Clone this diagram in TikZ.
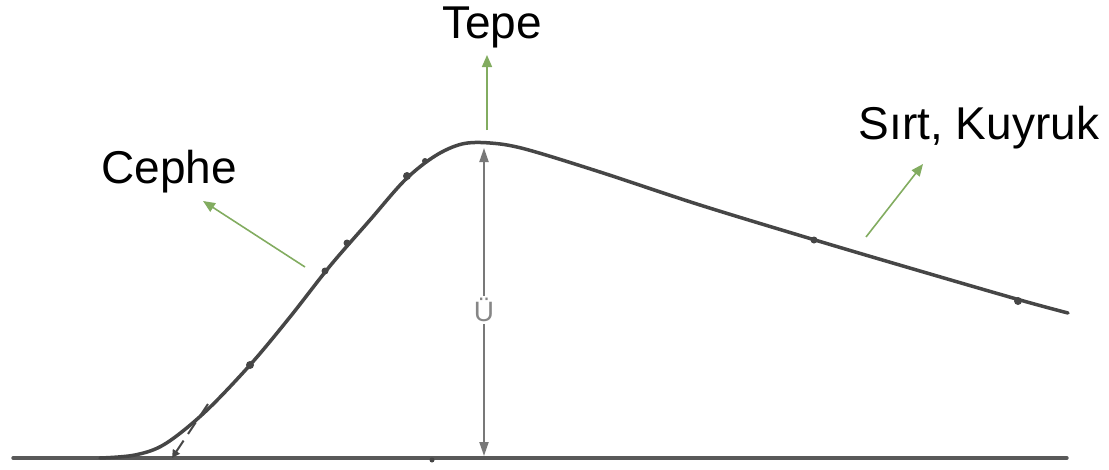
\documentclass[tikz,border=0pt]{standalone}
\usepackage{fontspec}
\setmainfont{Liberation Sans}
\usetikzlibrary{arrows.meta}
\definecolor{lbl}{RGB}{130,172,96}
\definecolor{ink}{RGB}{70,70,70}
\definecolor{ink2}{RGB}{120,120,120}
\begin{document}
\begin{tikzpicture}[x=1pt,y=-1pt,
  curveline/.style={draw=ink,line width=3.5pt,line cap=round},
  dimline/.style={draw=ink2,line width=2pt,-{Triangle[length=14pt,width=9pt]}},
  greenarrow/.style={draw=lbl,line width=1.6pt,-{Triangle[length=12pt,width=10pt]}},
  lbltext/.style={font=\fontsize{46}{52}\selectfont,inner sep=0pt},
  blip/.style={fill=ink,circle,inner sep=0pt,minimum size=8pt}]
\useasboundingbox (0,0) rectangle (1109,469);
% baseline
\coordinate (b0) at (13,458);
\coordinate (b1) at (1067,458);
\draw[curveline,line width=3.4pt,draw=ink!90] (b0) -- (b1);
% hydrograph curve
\draw[curveline] plot[smooth,tension=0.55] coordinates {(100,458) (135,455) (165,444) (205,412) (250,365) (290,317) (330,266) (370,220) (405,180) (435,156) (462,144) (490,143) (525,149) (600,172) (700,205) (815,240) (920,271) (1020,300) (1068,313)};
% blips
\node[blip] (p1) at (250,365) {};
\node[blip,minimum size=7pt] (p2) at (325,271) {};
\node[blip,minimum size=7pt] (p3) at (347,243) {};
\node[blip] (p4) at (407,176) {};
\node[blip,minimum size=6pt] (p5) at (425,161) {};
\node[blip,minimum size=7pt] (p6) at (814,240) {};
\node[blip] (p7) at (1018,301) {};
\node[blip,minimum size=5pt] (p8) at (432,460) {};
% tangent dashed
\coordinate (t0) at (208,404);
\coordinate (t1) at (172,458);
\draw[draw=ink,line width=2pt,dash pattern=on 14pt off 8pt,-{Triangle[length=8pt,width=8pt]}] (t0) -- (t1);
% vertical dimension U
\node[text=ink2!90,font=\fontsize{28}{30}\selectfont,fill=white,inner sep=2pt] (u) at (484,310) {Ü};
\coordinate (u0) at (484,148);
\coordinate (u1) at (484,456);
\draw[dimline] (u.north) -- (u0);
\draw[dimline] (u.south) -- (u1);
% labels
\node[lbltext] (tepe) at (492,27) {Tepe};
\node[lbltext] (cephe) at (169,172) {Cephe};
\node[lbltext] (sirt) at (979,128) {Sırt, Kuyruk};
\coordinate (g1a) at (487,130);
\coordinate (g1b) at (487,55);
\coordinate (g2a) at (305,267);
\coordinate (g2b) at (203,201);
\coordinate (g3a) at (866,237);
\coordinate (g3b) at (923,164);
\draw[greenarrow] (g1a) -- (g1b);
\draw[greenarrow] (g2a) -- (g2b);
\draw[greenarrow] (g3a) -- (g3b);
\end{tikzpicture}
\end{document}
